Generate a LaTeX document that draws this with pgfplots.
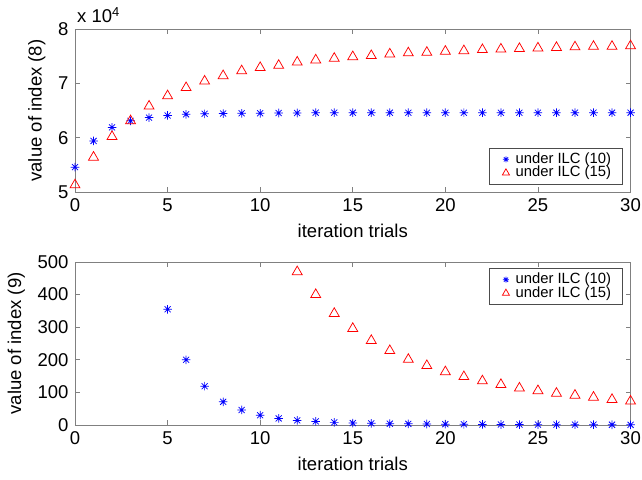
\documentclass[border=0pt]{standalone}
\usepackage{pgfplots}
\pgfplotsset{compat=1.18}
\usepackage{fontspec}
\setmainfont{Liberation Sans}
\pgfdeclareplotmark{mstar}{%
 \pgfpathmoveto{\pgfqpoint{-\pgfplotmarksize}{0pt}}\pgfpathlineto{\pgfqpoint{\pgfplotmarksize}{0pt}}%
 \pgfpathmoveto{\pgfqpoint{0pt}{-\pgfplotmarksize}}\pgfpathlineto{\pgfqpoint{0pt}{\pgfplotmarksize}}%
 \pgfpathmoveto{\pgfqpoint{-.707\pgfplotmarksize}{-.707\pgfplotmarksize}}\pgfpathlineto{\pgfqpoint{.707\pgfplotmarksize}{.707\pgfplotmarksize}}%
 \pgfpathmoveto{\pgfqpoint{-.707\pgfplotmarksize}{.707\pgfplotmarksize}}\pgfpathlineto{\pgfqpoint{.707\pgfplotmarksize}{-.707\pgfplotmarksize}}%
 \pgfusepathqstroke}
\begin{document}
\begin{tikzpicture}
\pgfplotsset{
  myax/.style={
    scale only axis,
    width=300pt, height=88pt,
    xmin=0, xmax=30,
    xtick={0,5,...,30},
    tick align=inside,
    major tick length=2.7pt,
    axis line style={gray},
    every tick/.style={gray},
    tick label style={font=\normalsize},
    /pgf/number format/assume math mode=true,
    label style={font=\normalsize},
    xlabel={iteration trials},
    legend cell align=left,
    legend image code/.code={\path (0pt,0pt) (8pt,0pt); \draw[#1] plot coordinates {(4pt,0pt)};},
    legend style={draw=black!70, font=\footnotesize, inner xsep=5pt, inner ysep=1.5pt, row sep=-2pt,
      nodes={inner sep=1pt}},
  },
  bluestar/.style={only marks, mark=mstar, mark size=2.3pt, blue, legend image post style={mark size=1.6pt}},
  redtri/.style={only marks, mark=triangle, mark size=3.1pt, red, legend image post style={mark size=2.2pt}},
}
% bounding box matching reference proportions
\path[use as bounding box] (0pt,0pt) rectangle (346.7pt,-258.7pt);

\begin{axis}[myax,
  at={(40.5pt,-103.7pt)}, anchor=south west,
  ymin=50000, ymax=80000,
  ytick={50000,60000,70000,80000},
  scaled y ticks=base 10:-4,
  ytick scale label code/.code={x 10\textsuperscript{#1}},
  every y tick scale label/.style={at={(rel axis cs:0,1)}, anchor=south west, inner sep=0pt, yshift=3pt, xshift=1pt},
  ylabel={value of index (8)},
  legend style={at={(rel axis cs:1,0)}, anchor=south east, xshift=-4.3pt, yshift=4pt},
]
\addplot[bluestar] coordinates {
(0,54570) (1,59400) (2,61900) (3,63100) (4,63700) (5,64100) (6,64300) (7,64400)
(8,64450) (9,64500) (10,64500) (11,64550) (12,64550) (13,64600) (14,64600) (15,64600)
(16,64600) (17,64600) (18,64600) (19,64600) (20,64600) (21,64600) (22,64600) (23,64600)
(24,64600) (25,64600) (26,64600) (27,64600) (28,64600) (29,64600) (30,64600)};
\addlegendentry{under ILC (10)}
\addplot[redtri] coordinates {
(0,51300) (1,56400) (2,60200) (3,63100) (4,65800) (5,67700) (6,69200) (7,70400)
(8,71400) (9,72300) (10,72900) (11,73300) (12,73900) (13,74300) (14,74600) (15,74900)
(16,75100) (17,75400) (18,75600) (19,75700) (20,75900) (21,76000) (22,76200) (23,76300)
(24,76400) (25,76500) (26,76600) (27,76700) (28,76800) (29,76800) (30,76900)};
\addlegendentry{under ILC (15)}
\end{axis}

\begin{axis}[myax,
  at={(40.5pt,-229.5pt)}, anchor=south west,
  ymin=0, ymax=500,
  ytick={0,100,...,500},
  ylabel={value of index (9)},
  legend style={at={(rel axis cs:1,1)}, anchor=north east, xshift=-4.3pt, yshift=-3.2pt},
]
\addplot[bluestar] coordinates {
(5,355) (6,200) (7,119) (8,71) (9,46) (10,30) (11,20) (12,14) (13,11) (14,8) (15,6)
(16,5) (17,4) (18,3.5) (19,3) (20,2.5) (21,2) (22,1.8) (23,1.5) (24,1.3) (25,1.1)
(26,1) (27,0.9) (28,0.8) (29,0.7) (30,0.6)};
\addlegendentry{under ILC (10)}
\addplot[redtri] coordinates {
(12,470) (13,400) (14,342) (15,296) (16,259) (17,228) (18,201) (19,182) (20,163)
(21,148) (22,135) (23,124) (24,113) (25,105) (26,97) (27,91) (28,85) (29,78) (30,73)};
\addlegendentry{under ILC (15)}
\end{axis}
\end{tikzpicture}
\end{document}
